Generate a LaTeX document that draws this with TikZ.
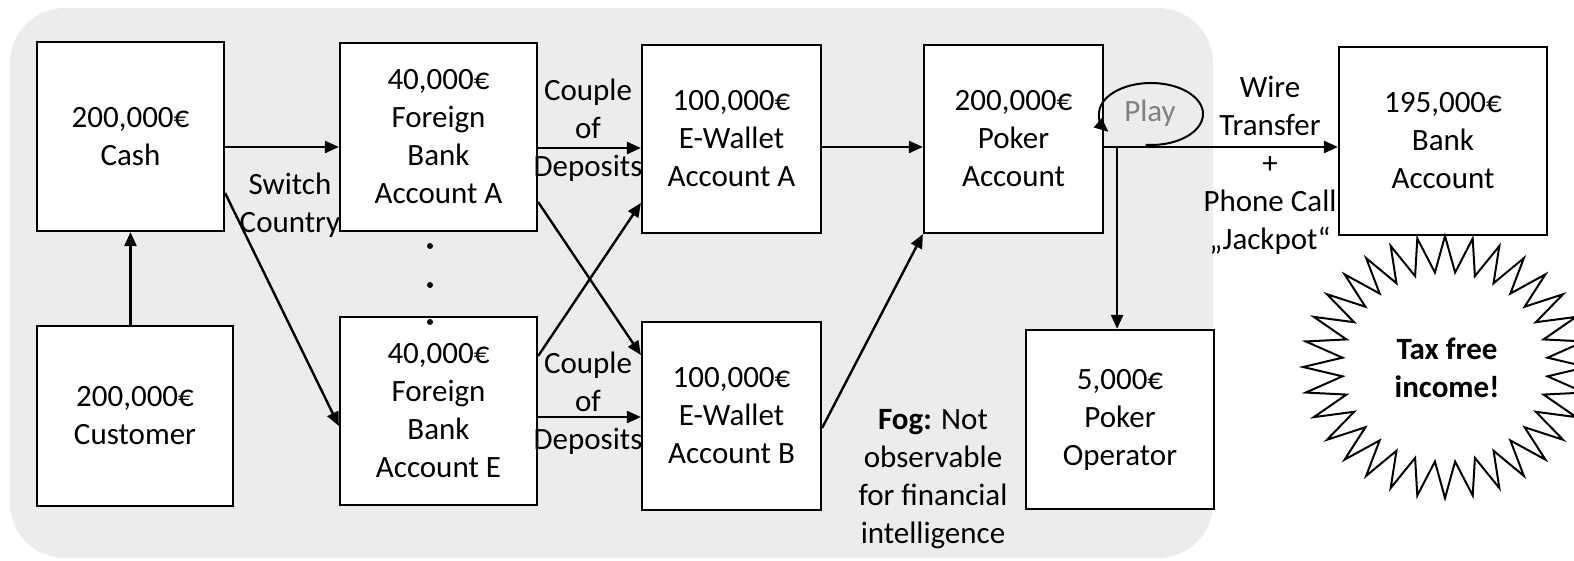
\documentclass[tikz,border=0pt]{standalone}
\usepackage{fontspec}
\setmainfont{Carlito}
\usetikzlibrary{arrows.meta,calc}

\tikzset{
    box/.style={draw, fill=white, line width=2.2pt, align=center, inner sep=0pt},
    flow/.style={-{Triangle[length=14pt,width=12pt]}, line width=2.4pt},
    note/.style={align=center, inner sep=0pt},
}

\begin{document}
\begin{tikzpicture}[x=1pt, y=-1pt, font=\fontsize{31}{38}\selectfont]
    \useasboundingbox (0,0) rectangle (1574,561);
    \fill[gray!15, rounded corners=55pt] (10,8) rectangle (1213,558);

    \node[box, minimum width=187pt, minimum height=189pt] at (130.5, 136.5) (cash) {200,000€\\Cash};
    \node[box, minimum width=196pt, minimum height=180pt] at (135, 416) (customer) {200,000€\\Customer};
    \node[box, minimum width=197pt, minimum height=188pt] at (438.5, 137) (bankA) {40,000€\\Foreign\\Bank\\Account A};
    \node[box, minimum width=197pt, minimum height=188pt] at (438.5, 411) (bankE) {40,000€\\Foreign\\Bank\\Account E};
    \node[box, minimum width=179pt, minimum height=188pt] at (731.5, 139) (walletA) {100,000€\\E-Wallet\\Account A};
    \node[box, minimum width=179pt, minimum height=188pt] at (731.5, 416) (walletB) {100,000€\\E-Wallet\\Account B};
    \node[box, minimum width=179pt, minimum height=188pt] at (1013.5, 139) (poker) {200,000€\\Poker\\Account};
    \node[box, minimum width=188pt, minimum height=179pt] at (1120, 419.5) (operator) {5,000€\\Poker\\Operator};
    \node[box, minimum width=208pt, minimum height=188pt] at (1443, 141) (bank) {195,000€\\Bank\\Account};

    % tax free burst
    \coordinate (burst) at (1445, 367);
    \draw[fill=white, line width=2pt] ($(burst)+(0:142 and 131)$)
        \foreach \k [evaluate=\k as \rx using {mod(\k,2)==1 ? 103 : 142},
                     evaluate=\k as \ry using {mod(\k,2)==1 ? 95 : 131}] in {1,...,63}
        { -- ($(burst)+({\k*5.625}:{\rx} and {\ry})$) } -- cycle;
    \node[note, font=\fontsize{31}{38}\selectfont\bfseries] at (1447, 368) (tax) {Tax free\\income!};

    \node[note] at (290, 205) (switch) {Switch\\Country};
    \node[note] at (588, 130) (coupleA) {Couple\\of\\Deposits};
    \node[note] at (588, 403) (coupleB) {Couple\\of\\Deposits};
    \node[note] at (1270, 165) (wire) {Wire\\Transfer\\+\\Phone Call\\„Jackpot“};
    \node[note] at (933, 479) (fog) {\textbf{Fog:} Not\\observable\\for financial\\intelligence};
    \node[note, text=gray] at (1150, 113) (play) {Play};

    \foreach \y in {246, 285, 322}
        \fill (430, \y) circle[radius=3pt];

    \draw[flow] (customer.north -| cash.south) -- (cash.south);
    \draw[flow] ([yshift=-10.5pt]cash.east) -- ([yshift=-10pt]bankA.west);
    \draw[flow] ([yshift=-56.5pt]cash.east) -- ([yshift=-15pt]bankE.west);
    \draw[flow] ([yshift=-11pt]bankA.east) -- ([yshift=-9pt]walletA.west);
    \draw[flow] ([yshift=-65pt]bankA.east) -- ([yshift=61pt]walletB.west);
    \draw[flow] ([yshift=55pt]bankE.east) -- ([yshift=-64pt]walletA.west);
    \draw[flow] ([yshift=-6pt]bankE.east) -- ([yshift=-1pt]walletB.west);
    \draw[flow] ([yshift=-8pt]walletA.east) -- ([yshift=-8pt]poker.west);
    \draw[flow] ([yshift=-12pt]walletB.east) -- (poker.south west);
    \draw[flow] ([yshift=-8pt]poker.east) -- ([yshift=-6pt]bank.west);
    \coordinate (split) at ([xshift=13pt, yshift=-8pt]poker.east);
    \draw[flow] (split) -- (split |- operator.north);
    \draw[flow, line width=2pt] ([shift={(96:52 and 31)}]1151, 114)
        arc[start angle=96, end angle=-215, x radius=52, y radius=31];
\end{tikzpicture}
\end{document}
